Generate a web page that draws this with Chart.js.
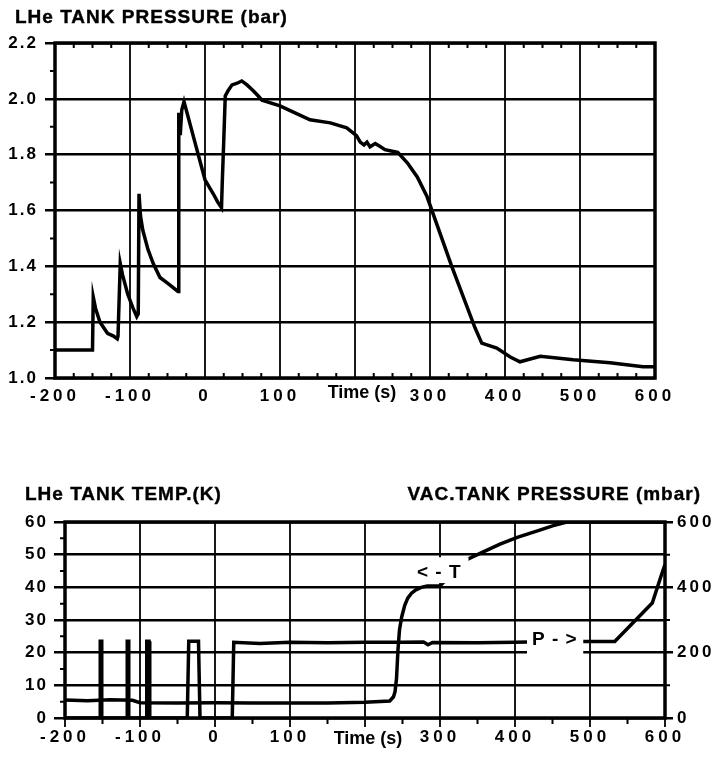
<!DOCTYPE html>
<html>
<head>
<meta charset="utf-8">
<script src="https://cdn.jsdelivr.net/npm/chart.js@4"></script>
<style>
  body { margin: 0; background: #fff; }
  #wrap { position: relative; width: 715px; height: 757px; }
  canvas { position: absolute; left: 0; }
  .ttl { position: absolute; font: bold 19px "Liberation Sans", Arial, sans-serif; letter-spacing: 1px; color: #000; white-space: nowrap; line-height: 22px; -webkit-text-stroke: 0.4px #000; }
</style>
</head>
<body>
<div id="wrap">
  <canvas id="topChart" width="715" height="420" style="top:0"></canvas>
  <canvas id="bottomChart" width="715" height="297" style="top:460px"></canvas>
  <div class="ttl" style="left:15px;top:6px">LHe TANK PRESSURE (bar)</div>
  <div class="ttl" style="left:25px;top:483px">LHe TANK TEMP.(K)</div>
  <div class="ttl" style="right:14px;top:483px">VAC.TANK PRESSURE (mbar)</div>
</div>
<script>
// ---- data ----
// top: LHe tank pressure (bar) vs time (s)
const pressTime = [-200, -150, -149, -146, -140, -130, -122, -117, -116, -113, -110, -103, -96, -91, -89, -88,
  -86, -83, -76, -69, -60, -50, -36, -35, -33, -31, -28, -24, -16, -7, 0, 11,
  17, 22, 23, 25, 27, 31, 36, 42, 49, 56, 64, 71, 76, 100, 120, 140,
  167, 189, 202, 207, 212, 216, 220, 227, 233, 240, 257, 270, 283, 296, 329, 360,
  369, 389, 407, 420, 447, 491, 540, 584, 600];
const pressBar = [1.10, 1.10, 1.29, 1.25, 1.20, 1.16, 1.15, 1.14, 1.15, 1.41, 1.37, 1.30, 1.25, 1.22, 1.23, 1.66,
  1.58, 1.53, 1.46, 1.41, 1.36, 1.34, 1.31, 1.95, 1.87, 1.96, 1.99, 1.95, 1.87, 1.78, 1.71, 1.66,
  1.63, 1.61, 1.70, 1.85, 2.01, 2.03, 2.05, 2.055, 2.064, 2.05, 2.03, 2.01, 1.995, 1.975, 1.95, 1.925,
  1.914, 1.896, 1.868, 1.845, 1.835, 1.845, 1.828, 1.84, 1.83, 1.818, 1.808, 1.77, 1.72, 1.65, 1.40, 1.18,
  1.125, 1.107, 1.075, 1.058, 1.078, 1.065, 1.055, 1.04, 1.04];

// bottom: LHe tank temperature (K), left axis
const tempTime = [-200, -170, -140, -110, -100, -50, 0, 50, 100, 150, 200, 233, 238, 240, 242, 244,
  246, 249, 253, 257, 262, 267, 275, 283, 300, 337, 357, 380, 403, 433, 450, 469, 600];
const tempK = [5.5, 5.3, 5.6, 5.4, 4.7, 4.6, 4.7, 4.6, 4.6, 4.6, 4.8, 5.2, 6.5, 8, 12, 21,
  27, 31, 34.5, 36.7, 38.2, 39.1, 40, 40.4, 40.5, 48.6, 50.8, 53.2, 55.3, 57.5, 58.8, 60, 60];

// bottom: vacuum tank pressure (mbar), right axis
const vacTime = [-200, -153, -153, -151, -151, -117, -117, -115, -115, -92, -91, -88, -87, -37, -35, -22,
  -20, 23, 25, 60, 100, 150, 200, 250, 278, 284, 290, 350, 400, 450, 500, 533,
  583, 596, 600];
const vacMbar = [0, 0, 235, 235, 0, 0, 235, 235, 0, 0, 235, 235, 0, 0, 235, 235,
  0, 0, 232, 228, 232, 230, 232, 232, 233, 224, 231, 230, 232, 234, 234, 234,
  352, 443, 470];

// axis ranges / tick labels
const timeMin = -200, timeMax = 600, timeStep = 100;
const timeTitle = 'Time (s)';
const timeTitleAt = 200;
const pressMin = 1.0, pressMax = 2.2, pressStep = 0.2;
const tempMin = 0, tempMax = 60, tempStep = 10;
const vacMin = 0, vacMax = 600, vacStep = 200;
const tempLabel = '< - T';
const vacLabel = 'P - >';

const FONT = "'Liberation Sans', Arial, sans-serif";
Chart.defaults.font.family = FONT;
Chart.defaults.font.weight = 'bold';
Chart.defaults.font.size = 17;
Chart.defaults.color = '#000';

const xy = (xs, ys) => xs.map((t, i) => ({ x: t, y: ys[i] }));

// letter spacing for tick labels (scanned labels are widely tracked)
const spacing = { x: '4px', y: '2px', y2: '3px' };
const letterSpacing = {
  id: 'letterSpacing',
  afterLayout(chart) {
    Object.values(chart.scales).forEach(s => {
      if (s._wrapped) return;
      const draw = s.drawLabels;
      s.drawLabels = function (area) {
        this.ctx.save();
        this.ctx.letterSpacing = spacing[this.id] || '0px';
        draw.call(this, area);
        this.ctx.restore();
      };
      s._wrapped = true;
    });
  }
};

function timeTick(v) {
  return v === timeTitleAt ? '' : String(v);
}

// ---- top chart ----
const topDecor = {
  id: 'topDecor',
  afterDatasetsDraw(chart) {
    const { ctx, chartArea: a, scales: { x, y } } = chart;
    ctx.save();
    ctx.strokeStyle = '#000';
    ctx.lineWidth = 2;
    ctx.beginPath();
    for (let t = timeMin + 25; t < timeMax; t += 25) {
      if (t % 100 === 0) continue;
      const px = x.getPixelForValue(t);
      ctx.moveTo(px, a.top); ctx.lineTo(px, a.top + 5);
      ctx.moveTo(px, a.bottom); ctx.lineTo(px, a.bottom - 5);
    }
    for (let v = 1.1; v < pressMax; v += 0.2) {
      const py = y.getPixelForValue(v);
      ctx.moveTo(a.left, py); ctx.lineTo(a.left - 5, py);
    }
    ctx.stroke();
    ctx.lineWidth = 3.5;
    ctx.strokeRect(a.left, a.top, a.right - a.left, a.bottom - a.top);
    ctx.font = 'bold 18px ' + FONT;
    ctx.fillStyle = '#000';
    ctx.textAlign = 'center';
    ctx.textBaseline = 'middle';
    ctx.fillText(timeTitle, x.getPixelForValue(timeTitleAt) + 7, a.bottom + 15);
    ctx.restore();
  }
};

new Chart(document.getElementById('topChart'), {
  type: 'line',
  data: {
    datasets: [{
      data: xy(pressTime, pressBar),
      borderColor: '#000',
      borderWidth: 3.5,
      pointRadius: 0,
      tension: 0
    }]
  },
  options: {
    responsive: false,
    animation: false,
    layout: { padding: { top: 43, right: 60, left: 0, bottom: 0 } },
    plugins: { legend: { display: false }, tooltip: { enabled: false } },
    scales: {
      x: {
        type: 'linear', min: timeMin, max: timeMax,
        ticks: { stepSize: timeStep, callback: timeTick, padding: 8, maxRotation: 0, autoSkip: false },
        grid: { color: '#1a1a1a', lineWidth: 2, drawTicks: false },
        border: { display: false },
        afterFit: s => { s.height = 42; }
      },
      y: {
        min: pressMin, max: pressMax,
        ticks: { stepSize: pressStep, callback: v => v.toFixed(1), padding: 7 },
        grid: { color: '#000', lineWidth: 2.5, drawTicks: true, tickLength: 10 },
        border: { display: false },
        afterFit: s => { s.width = 55; }
      }
    }
  },
  plugins: [letterSpacing, topDecor]
});

// ---- bottom chart ----
function labelBox(ctx, x, y, t0, t1, v0, v1) {
  const l = x.getPixelForValue(t0), r = x.getPixelForValue(t1);
  const tp = y.getPixelForValue(v1), bt = y.getPixelForValue(v0);
  ctx.fillStyle = '#fff';
  ctx.fillRect(l, tp, r - l, bt - tp);
}

const bottomDecor = {
  id: 'bottomDecor',
  afterDatasetsDraw(chart) {
    const { ctx, chartArea: a, scales: { x, y, y2 } } = chart;
    ctx.save();
    // white boxes behind in-plot labels
    labelBox(ctx, x, y, 416, 491, 19.2, 27.6);
    labelBox(ctx, x, y, 275, 338, 41.3, 49.2);
    ctx.fillStyle = '#000';
    ctx.font = 'bold 19px ' + FONT;
    ctx.textAlign = 'center';
    ctx.textBaseline = 'middle';
    ctx.letterSpacing = '1px';
    ctx.fillText(vacLabel, x.getPixelForValue(453), y2.getPixelForValue(239));
    ctx.fillText(tempLabel, x.getPixelForValue(299), y.getPixelForValue(44.6));
    ctx.letterSpacing = '0px';
    // minor ticks
    ctx.strokeStyle = '#000';
    ctx.lineWidth = 2;
    ctx.beginPath();
    for (let t = timeMin + 50; t < timeMax; t += 100) {
      const px = x.getPixelForValue(t);
      ctx.moveTo(px, a.bottom); ctx.lineTo(px, a.bottom + 6);
    }
    for (let v = 5; v < tempMax; v += 10) {
      const py = y.getPixelForValue(v);
      ctx.moveTo(a.left, py); ctx.lineTo(a.left - 5, py);
    }
    for (let v = 100; v < vacMax; v += 200) {
      const py = y2.getPixelForValue(v);
      ctx.moveTo(a.right, py); ctx.lineTo(a.right + 5, py);
    }
    ctx.stroke();
    ctx.lineWidth = 3.5;
    ctx.strokeRect(a.left, a.top, a.right - a.left, a.bottom - a.top);
    ctx.font = 'bold 18px ' + FONT;
    ctx.fillText(timeTitle, x.getPixelForValue(timeTitleAt) + 3, a.bottom + 21);
    ctx.restore();
  }
};

new Chart(document.getElementById('bottomChart'), {
  type: 'line',
  data: {
    datasets: [{
      data: xy(tempTime, tempK),
      yAxisID: 'y',
      borderColor: '#000',
      borderWidth: 3.5,
      pointRadius: 0,
      tension: 0
    }, {
      data: xy(vacTime, vacMbar),
      yAxisID: 'y2',
      borderColor: '#000',
      borderWidth: 3.5,
      pointRadius: 0,
      tension: 0
    }]
  },
  options: {
    responsive: false,
    animation: false,
    layout: { padding: { top: 62, right: 0, left: 0, bottom: 0 } },
    plugins: { legend: { display: false }, tooltip: { enabled: false } },
    scales: {
      x: {
        type: 'linear', min: timeMin, max: timeMax,
        ticks: { stepSize: timeStep, callback: timeTick, padding: 0, maxRotation: 0, autoSkip: false },
        grid: { color: '#1a1a1a', lineWidth: 2, drawTicks: true, tickLength: 9 },
        border: { display: false },
        afterFit: s => { s.height = 39; }
      },
      y: {
        position: 'left', min: tempMin, max: tempMax,
        ticks: { stepSize: tempStep, padding: 6 },
        grid: { color: '#000', lineWidth: 2.5, drawTicks: true, tickLength: 11 },
        border: { display: false },
        afterFit: s => { s.width = 65; }
      },
      y2: {
        position: 'right', min: vacMin, max: vacMax,
        ticks: { stepSize: vacStep, padding: 4 },
        grid: { color: '#000', lineWidth: 2.5, drawOnChartArea: false, drawTicks: true, tickLength: 8 },
        border: { display: false },
        afterFit: s => { s.width = 50; }
      }
    }
  },
  plugins: [letterSpacing, bottomDecor]
});
</script>
</body>
</html>
